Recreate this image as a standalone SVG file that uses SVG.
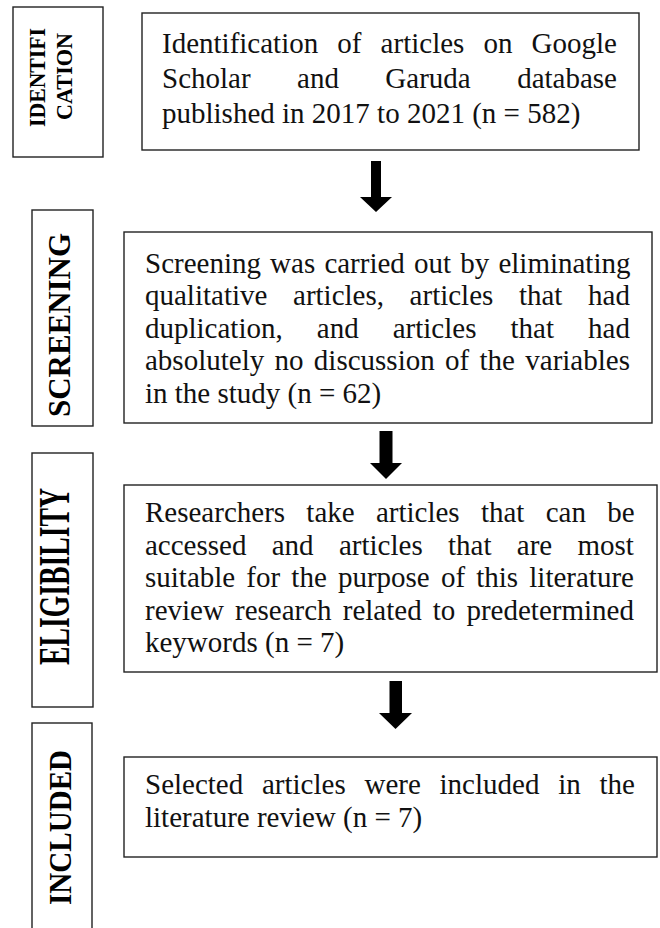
<svg xmlns="http://www.w3.org/2000/svg" width="660" height="928" viewBox="0 0 660 928">
<style>
.box{fill:#fff;stroke:#222;stroke-width:1.4}
.lbl{font-family:"Liberation Serif","Times New Roman",serif;font-weight:bold;fill:#000;text-anchor:middle}
.t{font-family:"Liberation Serif","Times New Roman",serif;font-size:29px;fill:#111}
.arr{fill:#000}
</style>
<rect width="660" height="928" fill="#fff"/>
<g id="label-identification">
<rect class="box" x="13" y="7" width="90" height="150"/>
<text class="lbl" font-size="24" transform="translate(45,77.5) rotate(-90)" textLength="99" lengthAdjust="spacingAndGlyphs">IDENTIFI</text>
<text class="lbl" font-size="24" transform="translate(72,76.5) rotate(-90)" textLength="87" lengthAdjust="spacingAndGlyphs">CATION</text>
</g>
<g id="label-screening">
<rect class="box" x="32" y="210" width="61" height="216"/>
<text class="lbl" font-size="31" transform="translate(70,325) rotate(-90)" textLength="184" lengthAdjust="spacingAndGlyphs">SCREENING</text>
</g>
<g id="label-eligibility">
<rect class="box" x="32" y="453" width="61" height="254"/>
<text class="lbl" font-size="44" transform="translate(69,576.5) rotate(-90)" textLength="177" lengthAdjust="spacingAndGlyphs">ELIGIBILITY</text>
</g>
<g id="label-included">
<rect class="box" x="32" y="723" width="60" height="220"/>
<text class="lbl" font-size="31" transform="translate(71,827.5) rotate(-90)" textLength="155" lengthAdjust="spacingAndGlyphs">INCLUDED</text>
</g>
<g id="identification">
<rect class="box" x="142" y="13" width="497" height="137"/>
<text class="t" x="162" y="52.5" word-spacing="11.87">Identification of articles on Google</text>
<text class="t" x="162" y="87.5" word-spacing="39.2">Scholar and Garuda database</text>
<text class="t" x="162" y="122.5">published in 2017 to 2021 (n = 582)</text>
</g>
<g id="screening">
<rect class="box" x="124" y="232" width="528" height="191"/>
<text class="t" x="145" y="272.5" word-spacing="1.91">Screening was carried out by eliminating</text>
<text class="t" x="145" y="305" word-spacing="18.36">qualitative articles, articles that had</text>
<text class="t" x="145" y="337.5" word-spacing="26.81">duplication, and articles that had</text>
<text class="t" x="145" y="370" word-spacing="3.08">absolutely no discussion of the variables</text>
<text class="t" x="145" y="402.5">in the study (n = 62)</text>
</g>
<g id="eligibility">
<rect class="box" x="124" y="485" width="533" height="187"/>
<text class="t" x="145" y="522" word-spacing="14.01">Researchers take articles that can be</text>
<text class="t" x="145" y="554.5" word-spacing="18.07">accessed and articles that are most</text>
<text class="t" x="145" y="587" word-spacing="3.91">suitable for the purpose of this literature</text>
<text class="t" x="145" y="619.5" word-spacing="3.88">review research related to predetermined</text>
<text class="t" x="145" y="652">keywords (n = 7)</text>
</g>
<g id="included">
<rect class="box" x="124" y="757" width="533" height="100"/>
<text class="t" x="145" y="793.5" word-spacing="11.5">Selected articles were included in the</text>
<text class="t" x="145" y="826.5">literature review (n = 7)</text>
</g>
<g id="connectors">
<polygon class="arr" points="371,161 381,161 381,197 392,197 376,212 360,197 371,197"/>
<polygon class="arr" points="379.5,431 392.5,431 392.5,463 402,463 386,479 370,463 379.5,463"/>
<polygon class="arr" points="389.5,681 402,681 402,713 412,713 395.5,729 379,713 389.5,713"/>
</g>
</svg>
